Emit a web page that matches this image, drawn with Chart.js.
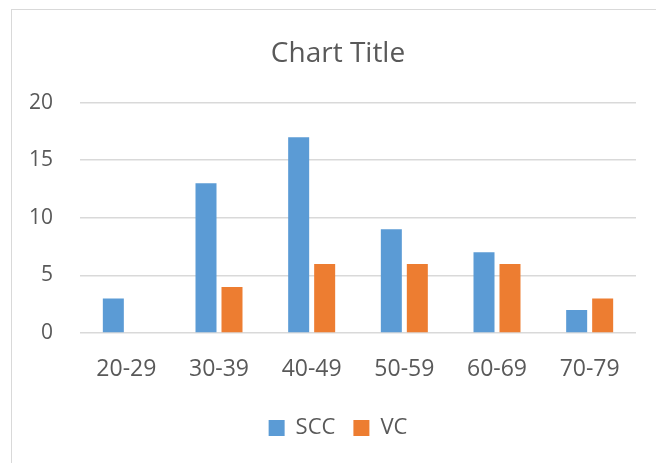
<!DOCTYPE html>
<html>
<head>
<meta charset="utf-8">
<script src="https://cdn.jsdelivr.net/npm/chart.js@4"></script>
<style>
  html, body { margin: 0; padding: 0; background: #fff; }
  #wrap { position: relative; width: 656px; height: 463px; overflow: hidden; }
  #frame { position: absolute; left: 11px; top: 9px; width: 700px; height: 500px; border: 1px solid #d9d9d9; }
  canvas { position: absolute; left: 0; top: 0; }
</style>
</head>
<body>
<div id="wrap">
  <div id="frame"></div>
  <canvas id="chart" width="676" height="463"></canvas>
</div>
<script>
// Age groups and counts per series
const ageGroups = ["20-29", "30-39", "40-49", "50-59", "60-69", "70-79"];
const sccValues = [3, 13, 17, 9, 7, 2];
const vcValues = [0, 4, 6, 6, 6, 3];
const yTicks = [0, 5, 10, 15, 20];

const textColor = "#595959";
const gridColor = "#d9d9d9";
const fontFamily = "'Open Sans', 'Noto Sans', sans-serif";

const ctx = document.getElementById("chart").getContext("2d");
new Chart(ctx, {
  type: "bar",
  data: {
    labels: ageGroups,
    datasets: [
      { label: "SCC", data: sccValues, backgroundColor: "#5b9bd5" },
      { label: "VC", data: vcValues, backgroundColor: "#ed7d31" }
    ]
  },
  options: {
    responsive: false,
    animation: false,
    categoryPercentage: 0.561,
    barPercentage: 0.808,
    layout: { padding: { top: 20, right: 0, bottom: 14, left: 0 } },
    scales: {
      x: {
        grid: { display: false },
        border: { display: false },
        ticks: { color: textColor, font: { family: fontFamily, size: 23 }, padding: 15 },
        afterFit: (scale) => { scale.height = 66; }
      },
      y: {
        min: 0,
        max: 20,
        afterBuildTicks: (scale) => { scale.ticks = yTicks.map(v => ({ value: v })); },
        grid: { color: gridColor, lineWidth: 1.5, drawTicks: false },
        border: { display: false },
        ticks: { color: textColor, font: { family: fontFamily, size: 21 }, padding: 27 },
        afterFit: (scale) => { scale.width = 80; }
      },
      // empty right-hand spacer so the title and legend centre on the frame
      spacer: {
        position: "right",
        grid: { display: false },
        border: { display: false },
        ticks: { display: false },
        afterFit: (scale) => { scale.width = 40; }
      }
    },
    plugins: {
      title: {
        display: true,
        text: "Chart Title",
        color: textColor,
        font: { family: fontFamily, size: 28, weight: "normal" },
        padding: { top: 17, bottom: 32 }
      },
      legend: {
        position: "bottom",
        labels: {
          color: textColor,
          font: { family: fontFamily, size: 22 },
          boxWidth: 16,
          boxHeight: 16,
          padding: 18
        }
      },
      tooltip: { enabled: false }
    }
  }
});
</script>
</body>
</html>
